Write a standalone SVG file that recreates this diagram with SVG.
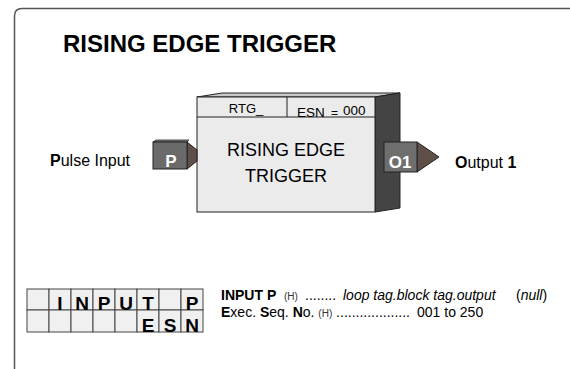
<svg xmlns="http://www.w3.org/2000/svg" width="570" height="369" viewBox="0 0 570 369">
<style>
text{font-family:"Liberation Sans",Arial,sans-serif;fill:#000}
.b{font-weight:bold}
.cell{fill:#f0f0f0;stroke:#444;stroke-width:1}
.tl{font-size:19px;font-weight:bold;text-anchor:middle}
.d{font-size:14px}
.s{font-size:10px;fill:#333}
.i{font-style:italic}
</style>
<rect width="570" height="369" fill="#fff"/>
<path d="M14.5 369 V16 Q14.5 8.5 22 8.5 H570" fill="none" stroke="#555" stroke-width="1.5"/>
<text x="63" y="52" font-size="24" class="b">RISING EDGE TRIGGER</text>
<g id="block">
<polygon points="197,97 222,93 400,93 375,97" fill="#c8c8c8" stroke="#222" stroke-width="1"/>
<polygon points="375,97 400,93 400,208 375,212" fill="#444" stroke="#222" stroke-width="1"/>
<rect x="197" y="97" width="178" height="115" fill="#ebebeb" stroke="#222" stroke-width="1"/>
<line x1="197" y1="117" x2="375" y2="117" stroke="#222"/>
<line x1="287" y1="97" x2="287" y2="117" stroke="#222"/>
<text x="246" y="113" font-size="13" text-anchor="middle">RTG_</text>
<text x="297" y="116.5" font-size="13.5">ESN<tspan x="331" font-size="12">=</tspan><tspan x="343" y="115">000</tspan></text>
<text x="286" y="156" font-size="18" text-anchor="middle">RISING EDGE</text>
<text x="286" y="182" font-size="18" text-anchor="middle">TRIGGER</text>
</g>
<g id="input-P">
<polygon points="187,142 197,150 197,161 187,169" fill="#5e5048" stroke="#222" stroke-width="1"/>
<polygon points="153,142 156,140 189,140 187,142" fill="#888" stroke="#222" stroke-width="0.8"/>
<rect x="153" y="142" width="34" height="27" fill="#6a6a6a" stroke="#222" stroke-width="1"/>
<text x="171" y="167" font-size="17" class="b" text-anchor="middle" style="fill:#fff">P</text>
<text x="50" y="166" font-size="16"><tspan class="b">P</tspan>ulse Input</text>
</g>
<g id="output-O1">
<polygon points="417,142 439,157 417,172" fill="#5e5048" stroke="#222" stroke-width="1"/>
<rect x="384" y="142" width="33" height="30" fill="#6e6e6e" stroke="#222" stroke-width="1"/>
<text x="400" y="168" font-size="17" class="b" text-anchor="middle" style="fill:#fff">O1</text>
<text x="455" y="168" font-size="16"><tspan class="b">O</tspan>utput <tspan class="b">1</tspan></text>
</g>
<g id="table">
<rect class="cell" x="27" y="289" width="22" height="21"/>
<rect class="cell" x="49" y="289" width="22" height="21"/>
<rect class="cell" x="71" y="289" width="22" height="21"/>
<rect class="cell" x="93" y="289" width="22" height="21"/>
<rect class="cell" x="115" y="289" width="22" height="21"/>
<rect class="cell" x="137" y="289" width="22" height="21"/>
<rect class="cell" x="159" y="289" width="22" height="21"/>
<rect class="cell" x="181" y="289" width="22" height="21"/>
<rect class="cell" x="27" y="310" width="22" height="22"/>
<rect class="cell" x="49" y="310" width="22" height="22"/>
<rect class="cell" x="71" y="310" width="22" height="22"/>
<rect class="cell" x="93" y="310" width="22" height="22"/>
<rect class="cell" x="115" y="310" width="22" height="22"/>
<rect class="cell" x="137" y="310" width="22" height="22"/>
<rect class="cell" x="159" y="310" width="22" height="22"/>
<rect class="cell" x="181" y="310" width="22" height="22"/>
<text class="tl" x="60" y="310">I</text>
<text class="tl" x="82" y="310">N</text>
<text class="tl" x="104" y="310">P</text>
<text class="tl" x="126" y="310">U</text>
<text class="tl" x="148" y="310">T</text>
<text class="tl" x="192" y="310">P</text>
<text class="tl" x="148" y="332">E</text>
<text class="tl" x="170" y="332">S</text>
<text class="tl" x="192" y="332">N</text>
</g>
<g id="desc">
<text class="d" x="221" y="300"><tspan class="b">INPUT P</tspan><tspan x="284" class="s">(H)</tspan><tspan x="305">........</tspan><tspan x="343" class="i">loop tag.block tag.output</tspan><tspan x="516">(</tspan><tspan class="i">null</tspan>)</text>
<text class="d" x="221" y="317"><tspan class="b">E</tspan>xec. <tspan class="b">S</tspan>eq. <tspan class="b">N</tspan>o. <tspan class="s">(H)</tspan> ................... <tspan x="417">001 to 250</tspan></text>
</g>
</svg>
